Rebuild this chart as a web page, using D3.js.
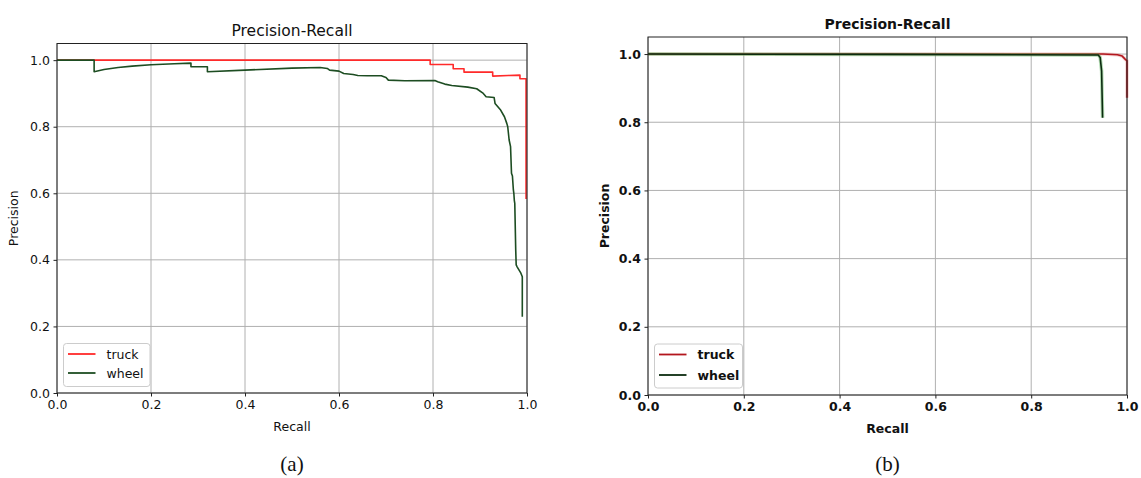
<!DOCTYPE html>
<html>
<head>
<meta charset="utf-8">
<script src="https://cdn.jsdelivr.net/npm/d3@7"></script>
<style>
  body { margin: 0; background: #fff; }
  svg { display: block; }
  text { fill: #111; }
</style>
</head>
<body>
<div id="canvas"></div>
<script>
// Precision-Recall curves, two panels (a) and (b)
const width = 1141
const height = 478

const tickValues = [0, 0.2, 0.4, 0.6, 0.8, 1.0]
const seriesNames = ['truck', 'wheel']

// panel (a)
const truckRecallA = [0, 0.794, 0.794, 0.843, 0.843, 0.866, 0.866, 0.927, 0.927, 0.96, 0.985, 0.985, 0.998, 0.998]
const truckPrecA = [1, 1, 0.987, 0.987, 0.974, 0.974, 0.964, 0.964, 0.952, 0.954, 0.955, 0.944, 0.944, 0.583]
const wheelRecallA = [0, 0.079, 0.079, 0.1, 0.13, 0.16, 0.2, 0.25, 0.285, 0.285, 0.32, 0.32, 0.4, 0.5, 0.56,
  0.575, 0.58, 0.6, 0.61, 0.63, 0.64, 0.66, 0.69, 0.7, 0.705, 0.74, 0.804, 0.81, 0.825, 0.84, 0.874,
  0.893, 0.907, 0.913, 0.93, 0.932, 0.943, 0.952, 0.957, 0.959, 0.962, 0.965, 0.967, 0.969,
  0.971, 0.972, 0.973, 0.974, 0.976, 0.977, 0.979, 0.987, 0.99, 0.99]
const wheelPrecA = [1, 1, 0.965, 0.972, 0.978, 0.982, 0.986, 0.989, 0.991, 0.98, 0.98, 0.965, 0.97, 0.976, 0.978,
  0.975, 0.97, 0.967, 0.96, 0.957, 0.954, 0.953, 0.953, 0.948, 0.94, 0.938, 0.939, 0.935, 0.928, 0.924, 0.919,
  0.914, 0.9, 0.89, 0.888, 0.87, 0.852, 0.83, 0.81, 0.8, 0.76, 0.74, 0.66, 0.652,
  0.61, 0.6, 0.579, 0.57, 0.43, 0.385, 0.379, 0.36, 0.349, 0.229]

// panel (b)
const truckRecallB = [0, 0.95, 0.98, 0.99, 0.996, 1.0, 1.0]
const truckPrecB = [1, 1, 0.998, 0.994, 0.985, 0.98, 0.872]
const wheelRecallB = [0, 0.5, 0.94, 0.944, 0.947, 0.949]
const wheelPrecB = [1, 0.999, 0.997, 0.99, 0.95, 0.813]

const svg = d3.select('#canvas').append('svg')
  .attr('width', width)
  .attr('height', height)

const zip = (xs, ys) => xs.map((x, i) => ({ r: x, p: ys[i] }))

const drawPanel = function (cfg) {
  const x = d3.scaleLinear().domain([0, 1]).range([cfg.left, cfg.right])
  const y = d3.scaleLinear().domain([0, 1.05]).range([cfg.bottom, cfg.top])
  const g = svg.append('g').style('font-family', 'DejaVu Sans, sans-serif')
  const weight = cfg.bold ? 'bold' : 'normal'

  // grid
  g.append('g').selectAll('line').data(tickValues).join('line')
    .attr('x1', d => x(d)).attr('x2', d => x(d))
    .attr('y1', cfg.top).attr('y2', cfg.bottom)
    .attr('stroke', '#b0b0b0').attr('stroke-width', 1)
  g.append('g').selectAll('line').data(tickValues).join('line')
    .attr('x1', cfg.left).attr('x2', cfg.right)
    .attr('y1', d => y(d)).attr('y2', d => y(d))
    .attr('stroke', '#b0b0b0').attr('stroke-width', 1)

  // axes
  const xAxis = g.append('g')
    .attr('transform', `translate(0,${cfg.bottom})`)
    .call(d3.axisBottom(x).tickValues(tickValues).tickSize(3.5).tickPadding(3.5).tickFormat(d3.format('.1f')))
  const yAxis = g.append('g')
    .attr('transform', `translate(${cfg.left},0)`)
    .call(d3.axisLeft(y).tickValues(tickValues).tickSize(3.5).tickPadding(3.5).tickFormat(d3.format('.1f')))
  ;[xAxis, yAxis].forEach(a => {
    a.select('.domain').remove()
    a.attr('font-family', null).attr('font-size', null)
    a.selectAll('text').style('font-size', '12.5px').style('font-weight', weight).attr('fill', '#111')
    a.selectAll('line').attr('stroke', '#222')
  })

  // curves
  const line = d3.line().x(d => x(d.r)).y(d => y(d.p))
  cfg.series.forEach(s => {
    if (s.halo) {
      g.append('path').datum(s.data)
        .attr('d', line).attr('fill', 'none')
        .attr('stroke', s.halo).attr('stroke-width', 3.5).attr('opacity', 0.45)
    }
    g.append('path').datum(s.data)
      .attr('d', line).attr('fill', 'none')
      .attr('stroke', s.color).attr('stroke-width', 1.6)
      .attr('stroke-linejoin', 'round')
  })

  // frame
  g.append('rect')
    .attr('x', cfg.left).attr('y', cfg.top)
    .attr('width', cfg.right - cfg.left).attr('height', cfg.bottom - cfg.top)
    .attr('fill', 'none').attr('stroke', '#222').attr('stroke-width', 1)

  // legend
  const lg = cfg.legend
  g.append('rect')
    .attr('x', lg.x).attr('y', lg.y).attr('width', lg.w).attr('height', lg.h)
    .attr('rx', 3).attr('fill', '#fff').attr('fill-opacity', 0.8)
    .attr('stroke', '#cccccc').attr('stroke-width', 1)
  cfg.series.forEach((s, i) => {
    const ly = lg.y + 10.5 + i * lg.gap
    g.append('line')
      .attr('x1', lg.x + 4.5).attr('x2', lg.x + 32)
      .attr('y1', ly).attr('y2', ly)
      .attr('stroke', s.color).attr('stroke-width', 1.8)
    g.append('text')
      .attr('x', lg.x + 43).attr('y', ly + 4.5)
      .style('font-size', '12.5px').style('font-weight', weight)
      .text(s.name)
  })

  // labels
  const cx = (cfg.left + cfg.right) / 2
  g.append('text').attr('x', cx).attr('y', cfg.top - 8)
    .attr('text-anchor', 'middle')
    .style('font-size', cfg.bold ? '14px' : '15.5px').style('font-weight', weight)
    .text('Precision-Recall')
  g.append('text').attr('x', cx).attr('y', cfg.bottom + 38)
    .attr('text-anchor', 'middle')
    .style('font-size', '12.5px').style('font-weight', weight)
    .text('Recall')
  g.append('text')
    .attr('transform', `translate(${cfg.left - 39},${(cfg.top + cfg.bottom) / 2}) rotate(-90)`)
    .attr('text-anchor', 'middle')
    .style('font-size', '12.5px').style('font-weight', weight)
    .text('Precision')
  g.append('text').attr('x', cx).attr('y', 471)
    .attr('text-anchor', 'middle')
    .style('font-size', '21px')
    .style('font-family', '"Liberation Serif", serif').style('font-weight', 'normal')
    .text(cfg.caption)
}

drawPanel({
  left: 57, right: 527, top: 43.5, bottom: 393,
  bold: false,
  caption: '(a)',
  legend: { x: 63.5, y: 343.5, w: 86.5, h: 43, gap: 19 },
  series: [
    { name: seriesNames[0], color: '#ff2a2a', data: zip(truckRecallA, truckPrecA) },
    { name: seriesNames[1], color: '#1d4d22', data: zip(wheelRecallA, wheelPrecA) }
  ]
})

drawPanel({
  left: 648, right: 1127, top: 37, bottom: 395,
  bold: true,
  caption: '(b)',
  legend: { x: 654.5, y: 344, w: 88, h: 44, gap: 20.5 },
  series: [
    { name: seriesNames[0], color: '#b3161d', halo: '#e8a0a0', data: zip(truckRecallB, truckPrecB) },
    { name: seriesNames[1], color: '#0c2c10', halo: '#55b055', data: zip(wheelRecallB, wheelPrecB) }
  ]
})
</script>
</body>
</html>
